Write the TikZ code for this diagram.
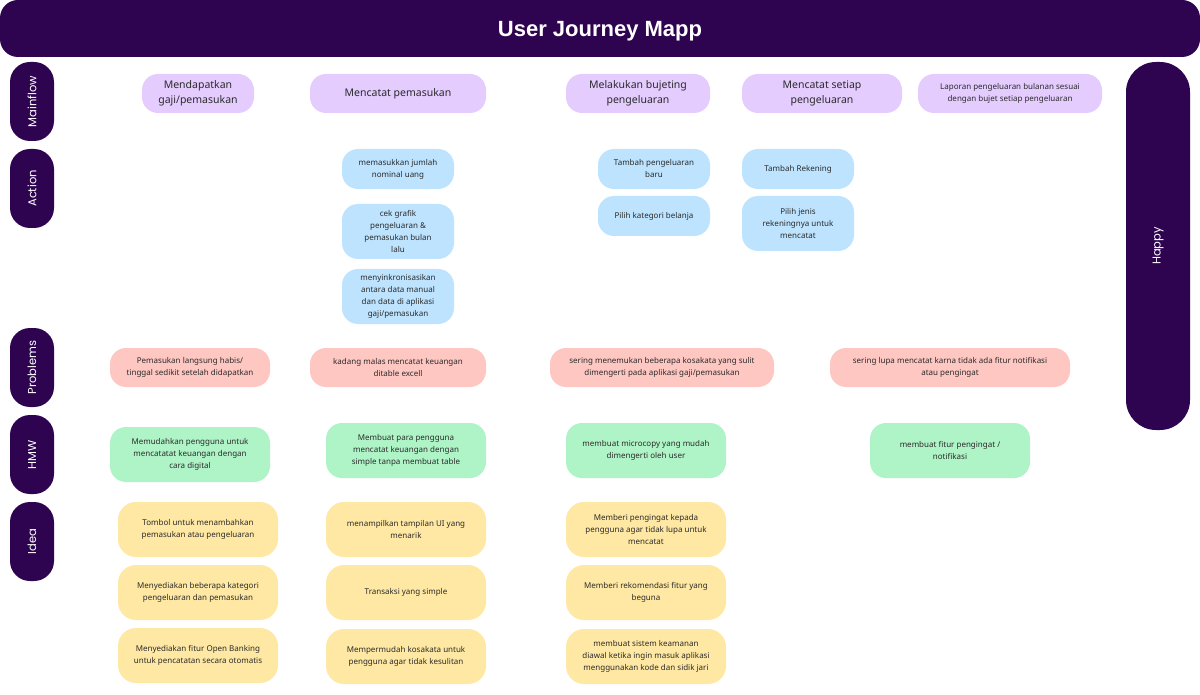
\documentclass[tikz,border=0pt]{standalone}
\usepackage{fontspec}
\setmainfont{Noto Sans}
\newfontfamily\poppins{Poppins}
\newfontfamily\titlefont{Liberation Sans}
\definecolor{dark}{HTML}{2E0451}
\definecolor{txt}{HTML}{2A2A2A}
\definecolor{mfc}{HTML}{E5CCFF}
\definecolor{acc}{HTML}{BDE3FF}
\definecolor{prc}{HTML}{FFC7C2}
\definecolor{hmc}{HTML}{AFF4C6}
\definecolor{idc}{HTML}{FFE8A3}
\tikzset{
  base/.style={rounded corners=16pt, inner sep=0pt, align=center, text=txt, font=\fontsize{8}{12}\selectfont},
  mfbox/.style={base, fill=mfc, font=\fontsize{10.5}{15}\selectfont},
  mfsmall/.style={base, fill=mfc},
  acbox/.style={base, fill=acc},
  prbox/.style={base, fill=prc},
  hmbox/.style={base, fill=hmc},
  idbox/.style={base, fill=idc, rounded corners=18pt},
  lab/.style={fill=dark, text=white, rounded corners=20pt, inner sep=0pt, rotate=90, font=\poppins\fontsize{11.5}{13}\selectfont},
}
\newcommand\bx[7]{\node[#2, minimum width={(#5-#3)*1pt}, minimum height={(#6-#4)*1pt}] (#1) at ({(#3+#5)/2},{-(#4+#6)/2}) {#7};}
\begin{document}
\begin{tikzpicture}[x=1pt,y=1pt]
\useasboundingbox (0,0) rectangle (1200,-695);
\fill[white] (0,0) rectangle (1200,-695);
% header
\node[fill=dark, text=white, rounded corners=18pt, inner sep=0pt, text depth=0pt, minimum width=1200pt, minimum height=57pt, font=\titlefont\bfseries\fontsize{22}{24}\selectfont] (title) at (600,-28.5) {User Journey Mapp};
% row labels
\node[lab, minimum width=79pt, minimum height=44pt] (lmain) at (32,-101.5) {Mainflow};
\node[lab, minimum width=79pt, minimum height=44pt] (lact) at (32,-188.5) {Action};
\node[lab, minimum width=79pt, minimum height=44pt] (lprob) at (32,-367.5) {Problems};
\node[lab, minimum width=79pt, minimum height=44pt] (lhmw) at (32,-454.5) {HMW};
\node[lab, minimum width=79pt, minimum height=44pt] (lidea) at (32,-541.5) {Idea};
\node[lab, rounded corners=30pt, minimum width=368pt, minimum height=64pt] (happy) at (1158,-246) {Happy};
% mainflow
\bx{m1}{mfbox}{142}{74}{254}{113}{Mendapatkan\\gaji/pemasukan}
\bx{m2}{mfbox}{310}{74}{486}{113}{Mencatat pemasukan}
\bx{m3}{mfbox}{566}{74}{710}{113}{Melakukan bujeting\\pengeluaran}
\bx{m4}{mfbox}{742}{74}{902}{113}{Mencatat setiap\\pengeluaran}
\bx{m5}{mfsmall}{918}{74}{1102}{113}{Laporan pengeluaran bulanan sesuai\\dengan bujet setiap pengeluaran}
% action
\bx{a1}{acbox}{342}{149}{454}{189}{memasukkan jumlah\\nominal uang}
\bx{a2}{acbox}{342}{204}{454}{259}{cek grafik\\pengeluaran \&\\pemasukan bulan\\lalu}
\bx{a3}{acbox}{342}{269}{454}{324}{menyinkronisasikan\\antara data manual\\dan data di aplikasi\\gaji/pemasukan}
\bx{a4}{acbox}{598}{149}{710}{189}{Tambah pengeluaran\\baru}
\bx{a5}{acbox}{598}{196}{710}{236}{Pilih kategori belanja}
\bx{a6}{acbox}{742}{149}{854}{189}{Tambah Rekening}
\bx{a7}{acbox}{742}{196}{854}{251}{Pilih jenis\\rekeningnya untuk\\mencatat}
% problems
\bx{p1}{prbox}{110}{348}{270}{387}{Pemasukan langsung habis/\\tinggal sedikit setelah didapatkan}
\bx{p2}{prbox}{310}{348}{486}{387}{kadang malas mencatat keuangan\\ditable excell}
\bx{p3}{prbox}{550}{348}{774}{387}{sering menemukan beberapa kosakata yang sulit\\dimengerti pada aplikasi gaji/pemasukan}
\bx{p4}{prbox}{830}{348}{1070}{387}{sering lupa mencatat karna tidak ada fitur notifikasi\\atau pengingat}
% hmw
\bx{h1}{hmbox}{110}{427}{270}{482}{Memudahkan pengguna untuk\\mencatatat keuangan dengan\\cara digital}
\bx{h2}{hmbox}{326}{423}{486}{478}{Membuat para pengguna\\mencatat keuangan dengan\\simple tanpa membuat table}
\bx{h3}{hmbox}{566}{423}{726}{478}{membuat microcopy yang mudah\\dimengerti oleh user}
\bx{h4}{hmbox}{870}{423}{1030}{478}{membuat fitur pengingat /\\notifikasi}
% ideas
\bx{i1}{idbox}{118}{502}{278}{557}{Tombol untuk menambahkan\\pemasukan atau pengeluaran}
\bx{i2}{idbox}{118}{565}{278}{620}{Menyediakan beberapa kategori\\pengeluaran dan pemasukan}
\bx{i3}{idbox}{118}{628}{278}{683}{Menyediakan fitur Open Banking\\untuk pencatatan secara otomatis}
\bx{i4}{idbox}{326}{502}{486}{557}{menampilkan tampilan UI yang\\menarik}
\bx{i5}{idbox}{326}{565}{486}{620}{Transaksi yang simple}
\bx{i6}{idbox}{326}{629}{486}{684}{Mempermudah kosakata untuk\\pengguna agar tidak kesulitan}
\bx{i7}{idbox}{566}{502}{726}{557}{Memberi pengingat kepada\\pengguna agar tidak lupa untuk\\mencatat}
\bx{i8}{idbox}{566}{565}{726}{620}{Memberi rekomendasi fitur yang\\beguna}
\bx{i9}{idbox}{566}{629}{726}{684}{membuat sistem keamanan\\diawal ketika ingin masuk aplikasi\\menggunakan kode dan sidik jari}
\end{tikzpicture}
\end{document}
